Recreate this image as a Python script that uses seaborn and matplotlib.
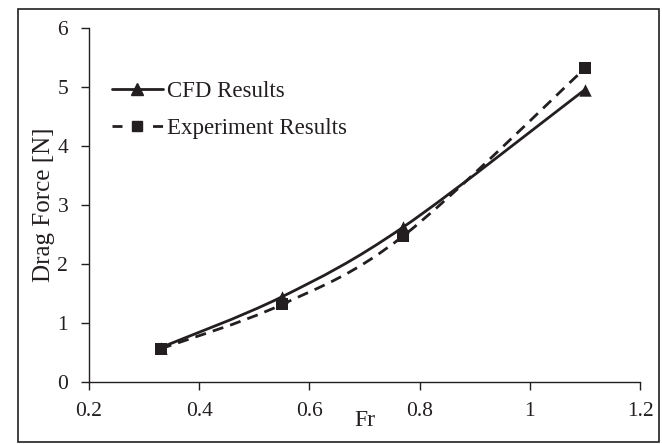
import numpy as np
import pandas as pd
import matplotlib
matplotlib.use("Agg")
import matplotlib.pyplot as plt
from matplotlib.path import Path
from matplotlib.patches import PathPatch, Rectangle
from matplotlib.lines import Line2D
import seaborn as sns

# Data
fr = [0.33, 0.55, 0.77, 1.10]
cfd = [0.58, 1.44, 2.62, 4.95]
experiment = [0.56, 1.31, 2.47, 5.31]
series_names = ["CFD Results", "Experiment Results"]
x_ticks = [0.2, 0.4, 0.6, 0.8, 1.0, 1.2]
x_tick_labels = ["0.2", "0.4", "0.6", "0.8", "1", "1.2"]
y_ticks = [0, 1, 2, 3, 4, 5, 6]

sns.set_style("ticks")
plt.rcParams["font.family"] = ["Liberation Serif", "DejaVu Serif"]

df = pd.DataFrame({"Fr": fr * 2,
                   "Drag": cfd + experiment,
                   "Series": [series_names[0]] * len(fr) + [series_names[1]] * len(fr)})

fig = plt.figure(figsize=(6.62, 4.44), dpi=100)
ax = fig.add_axes([0.1345, 0.140, 0.8325, 0.798])

INK = "#231f20"


def smooth_path(xs, ys):
    """Excel-like smoothed line as cubic Bezier segments through the data points."""
    pts = np.column_stack([xs, ys]).astype(float)
    n = len(pts)
    verts = [tuple(pts[0])]
    codes = [Path.MOVETO]
    for i in range(n - 1):
        p0 = pts[i - 1] if i > 0 else pts[i]
        p1 = pts[i]
        p2 = pts[i + 1]
        p3 = pts[i + 2] if i + 2 < n else pts[i + 1]
        c1 = p1 + (p2 - p0) / 6.0
        c2 = p2 - (p3 - p1) / 6.0
        verts += [tuple(c1), tuple(c2), tuple(p2)]
        codes += [Path.CURVE4] * 3
    return Path(verts, codes)


lw = 2.0
dash = (0, (4, 2.6))
ax.add_patch(PathPatch(smooth_path(fr, cfd), fill=False, edgecolor=INK,
                       lw=lw, transform=ax.transData, zorder=2))
ax.add_patch(PathPatch(smooth_path(fr, experiment), fill=False, edgecolor=INK,
                       lw=lw, linestyle=dash, transform=ax.transData, zorder=2))

sns.scatterplot(data=df[df.Series == series_names[0]], x="Fr", y="Drag", marker="^",
                color=INK, s=80, edgecolor=INK, linewidth=0, ax=ax,
                legend=False, zorder=3)
sns.scatterplot(data=df[df.Series == series_names[1]], x="Fr", y="Drag", marker="s",
                color=INK, s=70, edgecolor=INK, linewidth=0, ax=ax,
                legend=False, zorder=3)

ax.set_xlim(0.2, 1.2)
ax.set_ylim(0, 6)
ax.set_xticks(x_ticks)
ax.set_xticklabels(x_tick_labels)
ax.set_yticks(y_ticks)
ax.tick_params(axis="both", labelsize=15.5, colors=INK, length=6, width=1.0,
               direction="out")
ax.tick_params(axis="x", pad=8.5)
ax.tick_params(axis="y", pad=9)
ax.set_xlabel("Fr", fontsize=17, color=INK, labelpad=-8)
ax.set_ylabel("Drag Force [N]", fontsize=18, color=INK, labelpad=2)
for side in ["top", "right"]:
    ax.spines[side].set_visible(False)
for side in ["left", "bottom"]:
    ax.spines[side].set_color(INK)
    ax.spines[side].set_linewidth(1.0)

handles = [
    Line2D([], [], color=INK, lw=lw, marker="^", markersize=8),
    Line2D([], [], color=INK, lw=lw, linestyle=(0, (3.6, 11.0)), marker="s", markersize=7),
]
leg = ax.legend(handles, series_names, loc="upper left", bbox_to_anchor=(0.042, 0.85),
                frameon=False, fontsize=16.5, handlelength=2.2, handletextpad=0.2,
                labelspacing=0.73, borderpad=0, borderaxespad=0)
for t in leg.get_texts():
    t.set_color(INK)

fig.patches.append(Rectangle((0.027, 0.005), 0.968, 0.975, transform=fig.transFigure,
                             fill=False, edgecolor=INK, lw=1.2))

fig.savefig("out.png", dpi=100)
